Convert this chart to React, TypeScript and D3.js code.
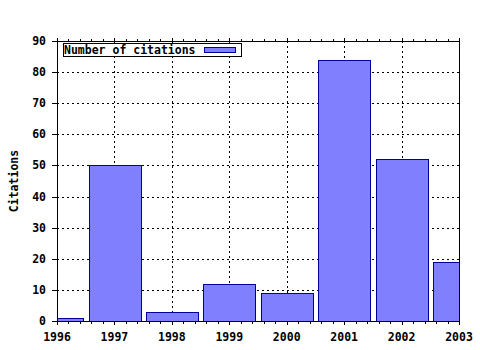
import React from "react";
import * as d3 from "d3";

const years = [1996, 1997, 1998, 1999, 2000, 2001, 2002, 2003];
const citations = [1, 50, 3, 12, 9, 84, 52, 19];
const yTicks = [0, 10, 20, 30, 40, 50, 60, 70, 80, 90];
const seriesName = "Number of citations";
const yLabel = "Citations";

export default function App() {
  const W = 480, H = 350;
  const L = 57, R = 459, T = 41, B = 321;
  const x = d3.scaleLinear().domain([1996, 2003]).range([L, R]);
  const y = d3.scaleLinear().domain([0, 90]).range([B, T]);
  const bw = (x(1997) - x(1996)) * 0.9;
  const minor: number[] = [];
  for (let i = 0; i < years.length - 1; i++) {
    for (let k = 1; k < 5; k++) minor.push(years[i] + k / 5);
  }
  const font = "'DejaVu Sans Mono', monospace";
  return (
    <svg width={W} height={H} style={{ position: "absolute", left: 0, top: 0, background: "#fff" }}>
      <rect x={0} y={0} width={W} height={H} fill="#fff" />
      <defs>
        <clipPath id="plot">
          <rect x={L} y={T} width={R - L} height={B - T} />
        </clipPath>
      </defs>
      {/* grid */}
      {yTicks.slice(1, -1).map((t) => (
        <line key={"gy" + t} x1={L} x2={R} y1={Math.round(y(t)) + 0.5} y2={Math.round(y(t)) + 0.5}
          stroke="#000" strokeWidth={1} strokeDasharray="2,3" />
      ))}
      {years.slice(1, -1).map((t) => (
        <line key={"gx" + t} y1={T} y2={B} x1={Math.round(x(t)) + 0.5} x2={Math.round(x(t)) + 0.5}
          stroke="#000" strokeWidth={1} strokeDasharray="2,3" />
      ))}
      {/* bars */}
      <g clipPath="url(#plot)">
        {years.map((yr, i) => (
          <rect key={yr} x={Math.round(x(yr) - bw / 2) + 0.5} y={Math.round(y(citations[i])) + 0.5}
            width={Math.round(bw)} height={Math.round(y(0)) - Math.round(y(citations[i]))}
            fill="#8080ff" stroke="#00009c" strokeWidth={1} />
        ))}
      </g>
      {/* frame */}
      <rect x={L + 0.5} y={T + 0.5} width={R - L} height={B - T} fill="none" stroke="#000" strokeWidth={1} />
      <line x1={L + 0.5} x2={L + 0.5} y1={T - 3} y2={B} stroke="#000" />
      {/* y ticks */}
      {yTicks.map((t) => (
        <g key={"yt" + t}>
          <line x1={L - 5} x2={L} y1={Math.round(y(t)) + 0.5} y2={Math.round(y(t)) + 0.5} stroke="#000" />
          <text x={L - 11} y={y(t) + 4} textAnchor="end" fontFamily={font} fontWeight="bold" fontSize={11.5} fill="#000">{t}</text>
        </g>
      ))}
      {/* x ticks */}
      {years.map((t) => (
        <g key={"xt" + t}>
          <line y1={B} y2={B + 4} x1={Math.round(x(t)) + 0.5} x2={Math.round(x(t)) + 0.5} stroke="#000" />
          <line y1={T - 3} y2={T + 1} x1={Math.round(x(t)) + 0.5} x2={Math.round(x(t)) + 0.5} stroke="#000" />
          <text x={x(t)} y={B + 20} textAnchor="middle" fontFamily={font} fontWeight="bold" fontSize={11.5} fill="#000">{t}</text>
        </g>
      ))}
      {minor.map((t, i) => (
        <g key={"mt" + i}>
          <line y1={B} y2={B + 3} x1={Math.round(x(t)) + 0.5} x2={Math.round(x(t)) + 0.5} stroke="#000" />
          <line y1={T - 2} y2={T} x1={Math.round(x(t)) + 0.5} x2={Math.round(x(t)) + 0.5} stroke="#000" />
        </g>
      ))}
      {/* y label */}
      <text transform={`translate(18,${(T + B) / 2}) rotate(-90)`} textAnchor="middle" fontFamily={font}
        fontWeight="bold" fontSize={11.5} fill="#000">{yLabel}</text>
      {/* legend */}
      <rect x={63.5} y={43.5} width={178} height={13} fill="#fff" stroke="#000" strokeWidth={1} />
      <text x={64} y={54} fontFamily={font} fontWeight="bold" fontSize={11.5} fill="#000">{seriesName}</text>
      <rect x={204.5} y={47.5} width={31} height={5} fill="#8080ff" stroke="#00009c" strokeWidth={1} />
    </svg>
  );
}
